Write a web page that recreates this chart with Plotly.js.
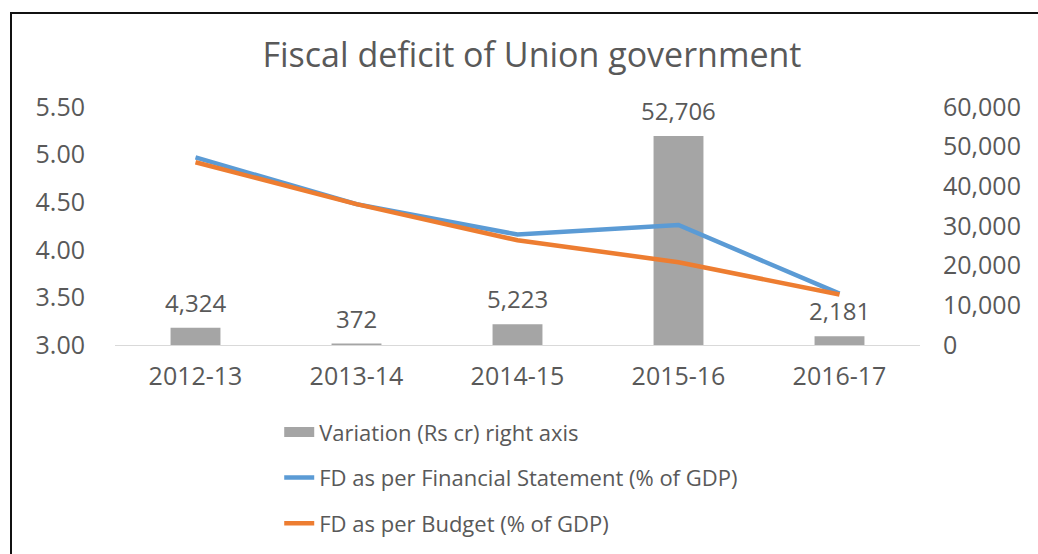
<!DOCTYPE html>
<html>
<head>
<meta charset="utf-8">
<script src="https://cdn.plot.ly/plotly-3.0.1.min.js"></script>
<style>
  html, body { margin: 0; padding: 0; background: #fff; }
  #wrap { position: relative; width: 1038px; height: 554px; overflow: hidden; }
  #chart { position: absolute; left: 0; top: 0; width: 1038px; height: 554px; }
  #frame { position: absolute; left: 10px; top: 12px; width: 1040px; height: 560px;
           border-top: 2px solid #111; border-left: 2px solid #111; pointer-events: none; }
</style>
</head>
<body>
<div id="wrap">
  <div id="chart"></div>
  <div id="frame"></div>
</div>
<script>
const years = ['2012-13', '2013-14', '2014-15', '2015-16', '2016-17'];
const variation = [4324, 372, 5223, 52706, 2181];
const fdFinancialStatement = [4.97, 4.48, 4.16, 4.26, 3.54];
const fdBudget = [4.92, 4.48, 4.10, 3.87, 3.53];
const leftTicks = [3.0, 3.5, 4.0, 4.5, 5.0, 5.5];
const rightTicks = [0, 10000, 20000, 30000, 40000, 50000, 60000];

const FONT = '"Open Sans", "Liberation Sans", sans-serif';
const TXT = '#595959';

const traces = [
  {
    type: 'bar', x: years, y: variation, yaxis: 'y',
    name: 'Variation (Rs cr) right axis', legendgroup: 'a', showlegend: false,
    marker: { color: '#A5A5A5' }, width: 0.31,
    hoverinfo: 'x+y'
  },
  {
    // legend swatch for the bar series (wide grey block, as in the reference)
    type: 'scatter', mode: 'lines', x: [null], y: [null], yaxis: 'y',
    name: 'Variation (Rs cr) right axis', legendgroup: 'a',
    line: { color: '#A5A5A5', width: 14 }, hoverinfo: 'skip'
  },
  {
    type: 'scatter', mode: 'lines', x: years, y: fdFinancialStatement, yaxis: 'y2',
    name: 'FD as per Financial Statement (% of GDP)', legendgroup: 'b',
    line: { color: '#5B9BD5', width: 4.5 }
  },
  {
    type: 'scatter', mode: 'lines', x: years, y: fdBudget, yaxis: 'y2',
    name: 'FD as per Budget (% of GDP)', legendgroup: 'c',
    line: { color: '#ED7D31', width: 4.5 }
  }
];

// data labels above the bars, placed through the bar axis (x category, y right axis)
const barLabels = years.map((yr, i) => ({
  x: yr, y: variation[i], xref: 'x', yref: 'y',
  text: variation[i].toLocaleString('en-US'),
  showarrow: false, yanchor: 'bottom', xanchor: 'center', yshift: 7,
  font: { family: FONT, size: 24, color: TXT }
}));

const layout = {
  width: 1038, height: 554,
  paper_bgcolor: '#ffffff', plot_bgcolor: '#ffffff',
  margin: { l: 115, r: 118, t: 107, b: 209, autoexpand: false },
  font: { family: FONT, color: TXT, size: 22 },
  title: {
    text: 'Fiscal deficit of Union government',
    font: { family: FONT, size: 34, color: TXT },
    x: 0.5125, xref: 'container', xanchor: 'center',
    y: 0.90, yref: 'container', yanchor: 'middle'
  },
  showlegend: true,
  legend: {
    orientation: 'v', x: 0.204, xref: 'paper', xanchor: 'left',
    y: -0.278, yref: 'paper', yanchor: 'top',
    font: { family: FONT, size: 22, color: TXT },
    tracegroupgap: 14, bgcolor: 'rgba(0,0,0,0)'
  },
  annotations: barLabels,
  xaxis: {
    type: 'category', showgrid: false, zeroline: false,
    showline: true, linecolor: '#D9D9D9', linewidth: 1,
    ticks: 'outside', ticklen: 9, tickcolor: 'rgba(0,0,0,0)',
    tickangle: 0,
    tickfont: { family: FONT, size: 25, color: TXT }
  },
  yaxis: {
    side: 'right', range: [0, 60000], tickvals: rightTicks,
    ticktext: rightTicks.map(v => v.toLocaleString('en-US')),
    showgrid: false, zeroline: false, showline: false,
    ticks: 'outside', ticklen: 17, tickcolor: 'rgba(0,0,0,0)',
    tickfont: { family: FONT, size: 25, color: TXT }
  },
  yaxis2: {
    overlaying: 'y', side: 'left', range: [3.0, 5.5], tickvals: leftTicks,
    ticktext: leftTicks.map(v => v.toFixed(2)),
    showgrid: false, zeroline: false, showline: false,
    ticks: 'outside', ticklen: 24, tickcolor: 'rgba(0,0,0,0)',
    tickfont: { family: FONT, size: 25, color: TXT }
  }
};

Plotly.newPlot('chart', traces, layout, { displayModeBar: false, staticPlot: true });
</script>
</body>
</html>
